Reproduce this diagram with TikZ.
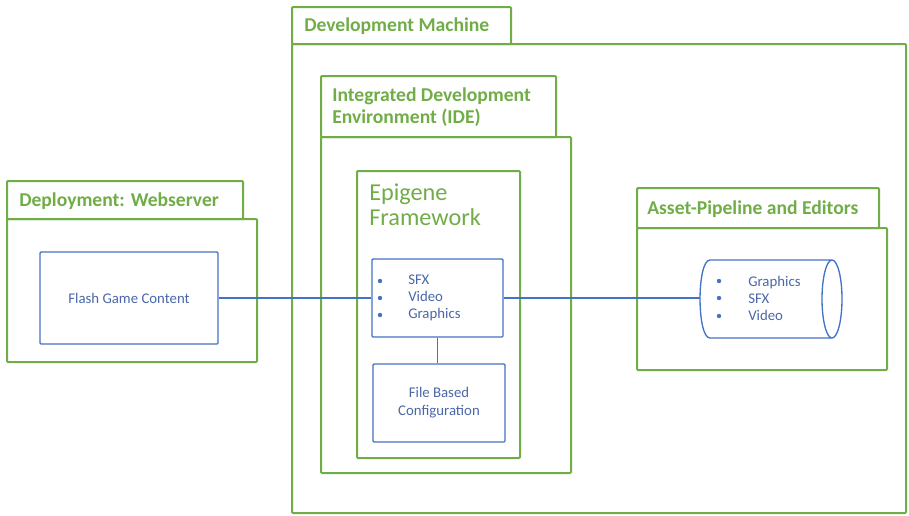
\documentclass[tikz,border=0pt]{standalone}
\usepackage{fontspec}
\setmainfont{Carlito}
\usetikzlibrary{fit}
\definecolor{grn}{HTML}{70AD47}
\definecolor{blu}{HTML}{4472C4}
\definecolor{btxt}{HTML}{4A67A8}
\begin{document}
\begin{tikzpicture}[x=0.75pt,y=-0.75pt,
  gbox/.style={draw=grn,line width=1.5pt,rounded corners=0.8pt,inner sep=0pt},
  bbox/.style={draw=blu,line width=1pt,rounded corners=0.8pt,inner sep=0pt},
  conn/.style={draw=blu,line width=0.9pt},
  gtitle/.style={text=grn,font=\fontsize{14.7}{16.5}\selectfont\bfseries,anchor=west,align=left,inner sep=0pt},
  btext/.style={text=btxt,font=\fontsize{11.1}{13}\selectfont,inner sep=0pt},
  bullet/.style={fill=blu,draw=none}]
\useasboundingbox (0,0) rectangle (909,515);

% Development machine package
\node[gbox,fit={(292,7) (511,44)}] (devtab) {};
\node[gbox,fit={(292,44) (906,513)}] (dev) {};
\node[gtitle] (devlbl) at (304,26) {Development Machine};

% IDE package
\node[gbox,fit={(321,76) (556,137)}] (idetab) {};
\node[gbox,fit={(321,137) (571,473)}] (ide) {};
\node[gtitle] (idelbl) at (332,107.5) {Integrated Development\\Environment (IDE)};

% Epigene framework component
\node[gbox,fit={(357,171) (520,458)}] (epi) {};
\node[text=grn,font=\fontsize{18.2}{19}\selectfont,anchor=west,align=left,inner sep=0pt] (epilbl) at (369,205) {Epigene\\Framework};

% Deployment package
\node[gbox,fit={(7,181) (243,219)}] (deptab) {};
\node[gbox,fit={(7,219) (257,362)}] (dep) {};
\node[gtitle] (deplbl) at (19,201) {Deployment: Webserver};

% Asset pipeline package
\node[gbox,fit={(637,188) (879,228)}] (assettab) {};
\node[gbox,fit={(637,228) (887,370)}] (asset) {};
\node[gtitle] (assetlbl) at (647,209) {Asset-Pipeline and Editors};

% Blue inner boxes
\node[bbox,fit={(40,252) (218,344)}] (flash) {};
\node[btext] (flashlbl) at (flash.center) {Flash Game Content};

\node[bbox,fit={(372,259) (503,337)}] (media) {};
\node[btext,anchor=west,align=left,font=\fontsize{11.1}{12.75}\selectfont] (medialbl) at (408,298) {SFX\\Video\\Graphics};
\foreach \yy in {281,298,315} \fill[bullet] (380,\yy) circle (2.2);

\node[bbox,fit={(373,364) (505,442)}] (config) {};
\node[btext,align=center,font=\fontsize{11.1}{13.5}\selectfont] (configlbl) at (config.center) {File Based\\Configuration};

% Asset store (horizontal cylinder)
\node[inner sep=0pt,fit={(700,260) (842,338)}] (store) {};
\draw[blu,line width=1pt]
  (710,260) -- (832,260)
  (710,338) -- (832,338)
  (710,260) .. controls (696.7,260) and (696.7,338) .. (710,338)
  (832,299) ellipse[x radius=10,y radius=39];
\node[btext,anchor=west,align=left,font=\fontsize{11.1}{12.75}\selectfont] (storelbl) at (748,298.5) {Graphics\\SFX\\Video};
\foreach \yy in {281,298,316} \fill[bullet] (719,\yy) circle (2.2);

% Connectors
\draw[conn] (flash.east) -- (media.west);
\draw[conn] (media.east) -- (media.east -| store.west);
\draw[conn] (media.south) -- (media.south |- config.north);
\end{tikzpicture}
\end{document}
